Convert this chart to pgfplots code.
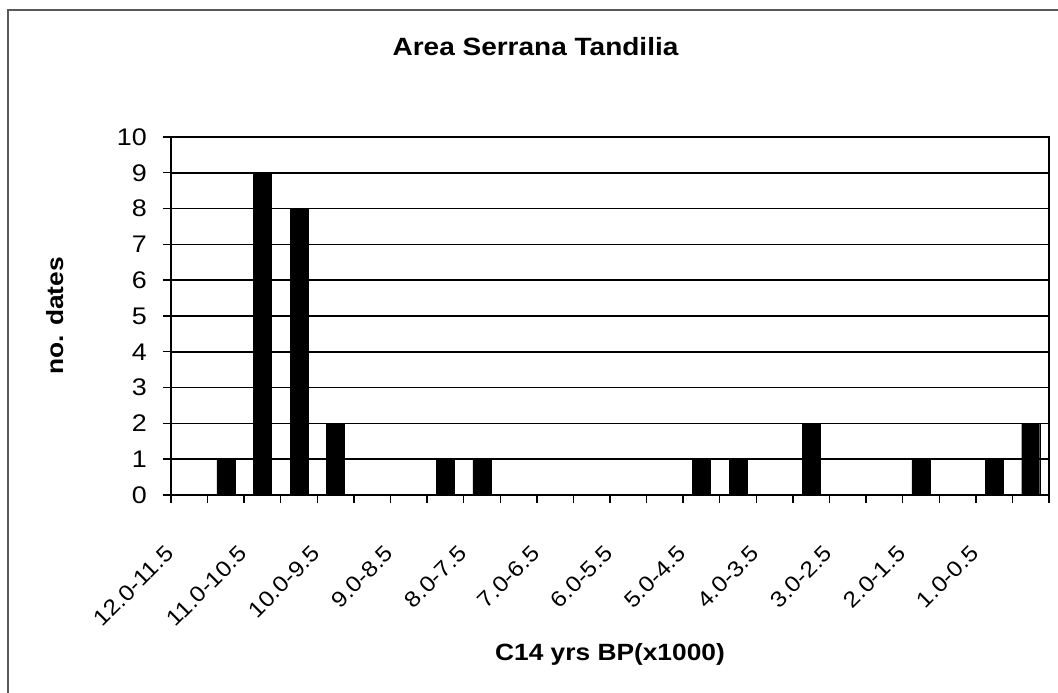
\documentclass[border=0pt]{standalone}
\usepackage{fontspec}
\setmainfont{Liberation Sans}[FakeStretch=1.12]
\usepackage{pgfplots}
\pgfplotsset{compat=1.18}
\begin{document}
\begin{tikzpicture}
\useasboundingbox (0,0) rectangle (1058bp,693bp);
\fill[white] (0,0) rectangle (1058bp,693bp);
\draw[black!65, line width=1.2bp] (8bp,0) -- (8bp,683bp) -- (1058bp,683bp);
\node[font=\bfseries\fontsize{25bp}{30bp}\selectfont, anchor=base] at (535.5bp,637bp) {Area Serrana Tandilia};
\begin{axis}[
  at={(171bp,198bp)}, anchor=south west,
  scale only axis, width=878bp, height=358bp,
  xmin=-0.5, xmax=23.5, ymin=0, ymax=10,
  ybar, bar width=18bp,
  ytick={0,1,...,10},
  xtick={-0.5,0.5,...,23.5}, xticklabels={},
  extra x ticks={0,2,...,22},
  extra x tick labels={12.0-11.5,11.0-10.5,10.0-9.5,9.0-8.5,8.0-7.5,7.0-6.5,6.0-5.5,5.0-4.5,4.0-3.5,3.0-2.5,2.0-1.5,1.0-0.5},
  extra x tick style={major tick length=0pt, grid=none},
  yticklabel style={anchor=east, inner sep=0pt, xshift=-16bp},
  tick label style={font=\fontsize{24bp}{26bp}\selectfont},
  xticklabel style={anchor=north east, inner sep=0pt, xshift=-25bp, yshift=-49bp, rotate=45, font=\fontsize{22bp}{24bp}\selectfont},
  /pgf/number format/assume math mode=true,
  tick align=outside, tick pos=left,
  major tick length=8bp,
  tick style={black, line width=1.4bp},
  axis line style={black, line width=1.7bp},
  ymajorgrids, grid style={black, line width=1.6bp},
  xlabel={C14 yrs BP(x1000)},
  ylabel={no. dates},
  label style={font=\bfseries\fontsize{23.5bp}{26bp}\selectfont},
  xlabel style={anchor=base, at={(axis description cs:0.5,-0.4609)}},
  ylabel style={anchor=base, at={(axis description cs:-0.123,0.5)}},
  clip=false,
]
\addplot[fill=black, draw=black] coordinates {
 (0,0) (1,1) (2,9) (3,8) (4,2) (5,0) (6,0) (7,1) (8,1) (9,0) (10,0) (11,0)
 (12,0) (13,0) (14,1) (15,1) (16,0) (17,2) (18,0) (19,0) (20,1) (21,0) (22,1) (23,2)
};
\end{axis}
\end{tikzpicture}
\end{document}
